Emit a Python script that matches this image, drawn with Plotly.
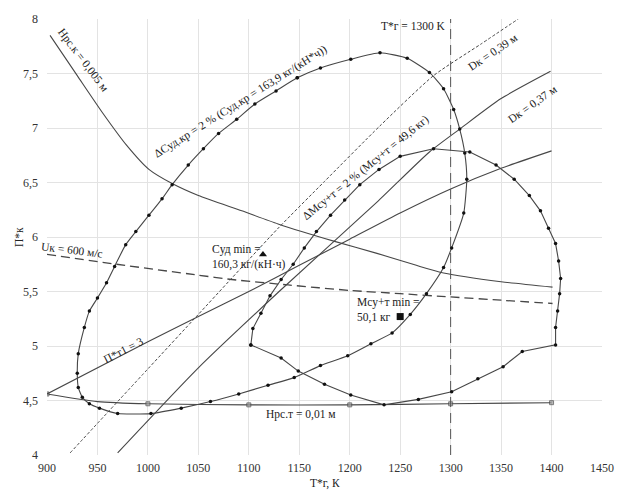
import plotly.graph_objects as go

# Lines of constant parameters on the (T*г, П*к) plane
t_hk = [903, 930, 955, 979, 1001, 1024, 1050, 1093, 1129, 1185, 1227, 1266, 1293, 1350, 1401]
p_hk = [7.85, 7.48, 7.14, 6.84, 6.62, 6.49, 6.38, 6.24, 6.12, 5.96, 5.85, 5.74, 5.67, 5.59, 5.54]

t_uk = [900, 969, 1050, 1083, 1139, 1200, 1250, 1300, 1350, 1401]
p_uk = [5.84, 5.75, 5.65, 5.61, 5.56, 5.51, 5.48, 5.45, 5.42, 5.39]

t_ht = [900, 950, 1000, 1100, 1200, 1300, 1400]
p_ht = [4.56, 4.49, 4.47, 4.46, 4.46, 4.47, 4.48]

t_pt = [900, 1000, 1050, 1100, 1150, 1200, 1250, 1300, 1350, 1400]
p_pt = [4.56, 5.04, 5.27, 5.50, 5.74, 5.98, 6.22, 6.44, 6.63, 6.79]

t_d39 = [923, 1000, 1050, 1128, 1175, 1230, 1283, 1330, 1367]
p_d39 = [4.02, 4.79, 5.29, 6.07, 6.51, 7.02, 7.48, 7.77, 8.0]

t_d37 = [970, 1050, 1130, 1227, 1279, 1309, 1350, 1399]
p_d37 = [4.02, 4.80, 5.50, 6.32, 6.78, 6.99, 7.27, 7.52]

# ΔCуд.кр = 2 % contour
t_c = [1148, 1171, 1201, 1230, 1257, 1279, 1293, 1303, 1309, 1314, 1316, 1313, 1301, 1293,
       1276, 1260, 1242, 1221, 1198, 1171, 1145, 1119, 1090, 1062, 1033, 1003, 970, 952,
       942, 935, 931, 930, 931, 937, 942, 950, 959, 967, 978, 988, 1001, 1014, 1024, 1040,
       1055, 1070, 1088, 1106, 1127, 1148]
p_c = [7.46, 7.55, 7.63, 7.69, 7.64, 7.51, 7.36, 7.17, 6.99, 6.77, 6.53, 6.22, 5.90, 5.72,
       5.48, 5.29, 5.12, 5.02, 4.91, 4.82, 4.71, 4.64, 4.56, 4.49, 4.43, 4.38, 4.38, 4.43,
       4.47, 4.53, 4.62, 4.75, 4.93, 5.17, 5.32, 5.44, 5.58, 5.73, 5.93, 6.05, 6.20, 6.35,
       6.48, 6.66, 6.81, 6.95, 7.08, 7.22, 7.34, 7.46]

# ΔMсу+т = 2 % contour
t_m = [1102, 1104, 1112, 1121, 1132, 1144, 1155, 1167, 1181, 1195, 1210, 1229, 1250, 1283,
       1319, 1345, 1363, 1378, 1389, 1397, 1404, 1407, 1409, 1408, 1406, 1404, 1404, 1371,
       1352, 1327, 1301, 1268, 1234, 1201, 1175, 1149, 1132, 1102]
p_m = [5.01, 5.16, 5.30, 5.46, 5.61, 5.75, 5.90, 6.05, 6.20, 6.34, 6.48, 6.62, 6.74, 6.81,
       6.78, 6.66, 6.53, 6.38, 6.24, 6.08, 5.94, 5.78, 5.62, 5.48, 5.32, 5.17, 5.01, 4.95,
       4.81, 4.70, 4.58, 4.51, 4.46, 4.55, 4.65, 4.77, 4.89, 5.01]

# Optimum points
t_cmin, p_cmin = [1114], [5.84]
t_mmin, p_mmin = [1250], [5.27]

t_limit = 1300

x_ticks = list(range(900, 1451, 50))
y_ticks = [4, 4.5, 5, 5.5, 6, 6.5, 7, 7.5, 8]
y_tick_text = ["4", "4,5", "5", "5,5", "6", "6,5", "7", "7,5", "8"]

LINE = "#474747"
FONT = "Liberation Serif"

fig = go.Figure()

def line(t, p, **kw):
    fig.add_trace(go.Scatter(x=t, y=p, mode="lines", hoverinfo="skip", **kw))

line(t_hk, p_hk, line=dict(color=LINE, width=1.1, shape="spline", smoothing=0.6))
line(t_uk, p_uk, line=dict(color=LINE, width=1.3, dash="9px,5px", shape="spline", smoothing=0.6))
fig.add_trace(go.Scatter(x=t_ht, y=p_ht, mode="lines+markers", hoverinfo="skip",
                         line=dict(color=LINE, width=1.1, shape="spline", smoothing=0.6),
                         marker=dict(symbol="square", size=[4, 0, 4, 4, 4, 4, 4], color="#9a9a9a")))
line(t_pt, p_pt, line=dict(color=LINE, width=1.1, shape="spline", smoothing=0.6))
line(t_d39, p_d39, line=dict(color=LINE, width=1.0, dash="3px,2px", shape="spline", smoothing=0.6))
line(t_d37, p_d37, line=dict(color=LINE, width=1.1, shape="spline", smoothing=0.6))

fig.add_trace(go.Scatter(x=t_c, y=p_c, mode="lines+markers", hoverinfo="skip",
                         line=dict(color=LINE, width=1.1, shape="spline", smoothing=0.5),
                         marker=dict(size=3.5, color="#111")))
fig.add_trace(go.Scatter(x=t_m, y=p_m, mode="lines+markers", hoverinfo="skip",
                         line=dict(color=LINE, width=1.1),
                         marker=dict(size=3.5, color="#111")))

fig.add_trace(go.Scatter(x=t_cmin, y=p_cmin, mode="markers", hoverinfo="skip",
                         marker=dict(symbol="triangle-up", size=7, color="#111")))
fig.add_trace(go.Scatter(x=t_mmin, y=p_mmin, mode="markers", hoverinfo="skip",
                         marker=dict(symbol="square", size=7, color="#111")))

fig.add_vline(x=t_limit, line=dict(color="#555", width=1, dash="10px,6px"))

labels = [
    dict(x=936, y=7.62, text="Нрс.к = 0,005 м", textangle=53),
    dict(x=1092, y=7.24, text="ΔCуд.кр = 2 % (Cуд.кр = 163,9 кг/(кН*ч))", textangle=-32),
    dict(x=1297, y=7.94, text="T*г = 1300 K", textangle=0, xanchor="right"),
    dict(x=1342, y=7.69, text="Dк = 0,39 м", textangle=-34),
    dict(x=1381, y=7.22, text="Dк = 0,37 м", textangle=-35),
    dict(x=1216, y=6.64, text="ΔMсу+т = 2 % (Mсу+т = 49,6 кг)", textangle=-39),
    dict(x=925, y=5.88, text="Uк = 600 м/с", textangle=7),
    dict(x=976, y=4.96, text="П*т1 = 3", textangle=-27),
    dict(x=1152, y=4.37, text="Нрс.т = 0,01 м", textangle=0),
    dict(x=1062, y=5.82, text="Cуд min =<br>160,3 кг/(кН·ч)", textangle=0, xanchor="left", align="left"),
    dict(x=1205, y=5.33, text="Mсу+т min =<br>50,1 кг", textangle=0, xanchor="left", align="left"),
]
for a in labels:
    fig.add_annotation(xref="x", yref="y", showarrow=False,
                       font=dict(family=FONT, size=11.5, color="#222"), **a)

fig.add_annotation(xref="paper", yref="paper", x=0.5, y=0, yshift=-37, showarrow=False,
                   xanchor="center", text="T*г, К", font=dict(family=FONT, size=11.5, color="#222"))
fig.add_annotation(xref="paper", yref="paper", x=0, y=0.5, xshift=-28, showarrow=False,
                   xanchor="center", yanchor="middle",
                   text="П*к", textangle=-90, font=dict(family=FONT, size=11.5, color="#222"))

fig.update_layout(
    width=626, height=492,
    margin=dict(l=47, r=19, t=16, b=37),
    paper_bgcolor="white", plot_bgcolor="white",
    showlegend=False,
    font=dict(family=FONT, size=12, color="#333"),
)
fig.update_xaxes(range=[900, 1450], tickvals=x_ticks, showgrid=True, gridcolor="#e3e3e3",
                 gridwidth=1, zeroline=False, showline=False, ticks="", ticklabelstandoff=4,
                 tickfont=dict(family=FONT, size=12, color="#333"))
fig.update_yaxes(range=[4, 8], tickvals=y_ticks, ticktext=y_tick_text, showgrid=True,
                 gridcolor="#e3e3e3", gridwidth=1, zeroline=False, showline=False, ticks="",
                 ticklabelstandoff=8,
                 tickfont=dict(family=FONT, size=12, color="#333"))

fig.write_html("out.html")
